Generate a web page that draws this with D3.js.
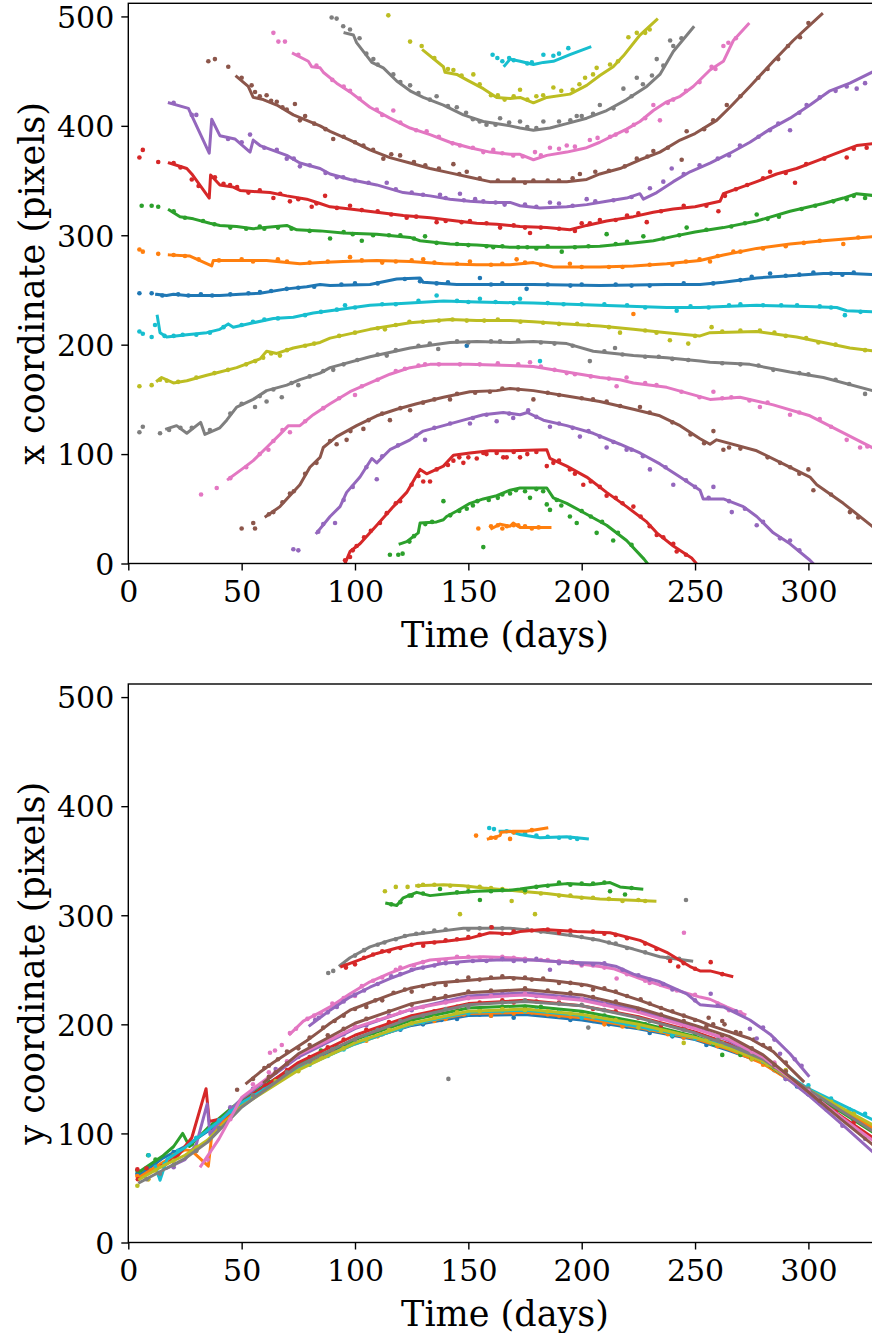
<!DOCTYPE html>
<html><head><meta charset="utf-8">
<script src="https://cdn.jsdelivr.net/npm/d3@7/dist/d3.min.js"></script>
<style>body{margin:0;background:#fff}svg{display:block}</style>
</head><body>
<svg id="chart" width="872" height="1333"></svg>
<script>
// ---------- tick labels / axis labels ----------
const xTicks = [0, 50, 100, 150, 200, 250, 300];
const yTicks = [0, 100, 200, 300, 400, 500];
const xLabel = "Time (days)";
const yLabelTop = "x coordinate (pixels)";
const yLabelBottom = "y coordinate (pixels)";
const palette = ["#1f77b4","#ff7f0e","#2ca02c","#d62728","#9467bd","#8c564b","#e377c2","#7f7f7f","#bcbd22","#17becf"];

// ---------- TOP PANEL: x coordinate vs time ([day, value]) ----------
const tCyanALine = [[166,455],[168.4,461],[172.8,459],[178.7,456],[183.1,458],[187.5,459],[194.8,465],[203.6,472]];
const tCyanADots = [[160.7,465],[162.8,462],[183.1,465],[187.5,464],[194.1,471],[170,460],[176,457],[165,459],[168,462],[178,458],[190,466]];
const tOliveALine = [[130.1,469],[139,454],[139.7,449],[144.9,447],[149.3,442],[156.6,434],[162.5,426],[168.4,425],[172.8,426],[178.7,421],[184.6,426],[194.8,429],[202.2,437],[208,446],[213.9,454],[218.4,464],[225.7,483],[233.1,497]];
const tOliveADots = [[114.7,501],[124.3,477],[129.4,473],[143.4,451],[152.2,447],[172.8,433],[187.5,435],[201.5,444],[206.6,453],[212.5,456],[220.6,481],[224.3,485],[160,428],[166,424],[180,427],[196,433],[135,462],[141,452],[147,446],[155,438],[163,428],[170,427],[176,424],[183,428],[191,432],[199,438],[205,447],[216,459],[228,485],[230,488]];
const tGrayALine = [[95.6,485],[99.3,483],[100.7,476],[107.4,458],[112.5,453],[118.4,441],[124.3,432],[130.1,426],[139,419],[147.8,410],[156.6,404],[168.4,400],[172.8,398],[178.7,396],[186,398],[193.4,402],[202.2,407],[211,414],[219.8,424],[228.7,436],[234.5,447],[240.4,468],[249.2,490]];
const tGrayADots = [[89.7,499],[91.9,498],[94.8,491],[97.8,488],[108.1,461],[116.9,447],[124.3,437],[136,427],[144.9,417],[164,407],[172.8,404],[183.1,404],[197.8,409],[208,419],[218.4,434],[224.3,444],[233.1,461],[239,478],[240.4,473],[152,406],[158,401],[102,480],[105,466],[110,456],[120,440],[128,430],[133,424],[141,418],[149,412],[155,404],[162,401],[168,403],[176,399],[180,398],[190,404],[195,405],[200,409],[205,411],[214,416],[222,427],[227,438],[231,446],[236,455],[244,480]];
const tPinkALine = [[72.8,466],[79.4,459],[80.9,454],[84.6,453],[86,449],[91.9,439],[97.8,431],[106.6,417],[115.4,407],[124.3,398],[133.1,392],[141.9,385],[150.7,380],[159.5,376],[168.4,374],[172.8,374],[178.7,369],[184.6,373],[193.4,376],[202.2,380],[208,385],[213.9,391],[219.8,397],[225.7,404],[231.6,414],[237.5,422],[243.4,427],[249.2,436],[256.6,451],[262.5,459],[266.9,478],[273.5,493]];
const tPinkADots = [[64,485],[66.2,477],[69.1,477],[97.8,432],[109.6,415],[116.9,414],[131.6,395],[146.3,382],[156.6,376],[169.8,373],[179.4,376],[186,380],[193.4,382],[203.6,387],[212.5,390],[219.8,395],[231.6,419],[234.5,405],[240.4,424],[257.3,454],[262.5,473],[264.7,476],[75,465],[83,455],[90,442],[95,436],[102,425],[112,410],[120,403],[127,396],[137,390],[143,384],[152,380],[161,378],[165,375],[174,372],[182,373],[190,379],[197,381],[207,389],[215,392],[223,401],[228,407],[238,421],[246,432],[252,440],[259,452],[268,480]];
const tBrownALine = [[47.8,445],[52.9,436],[55.1,426],[59.5,424],[65.5,419],[72.8,410],[78.7,405],[84.6,400],[89,395],[97.8,387],[106.6,378],[115.4,371],[124.3,366],[133.1,361],[141.9,357],[150.7,353],[159.5,349],[168.4,349],[181.6,349],[193.4,349],[202.2,351],[208,356],[216.9,361],[225.7,369],[234.5,376],[243.4,387],[250,393],[259.5,405],[265.4,417],[274.2,436],[284.5,459],[293.3,478],[305.9,502]];
const tBrownADots = [[35.3,459],[38.2,461],[44.1,454],[54.4,437],[55.9,431],[61,428],[65.5,422],[69.9,415],[73.5,420],[75.7,405],[90.4,388],[103.7,382],[112.5,370],[119.9,373],[143.4,365],[149.3,358],[178.7,350],[199.2,356],[224.3,370],[231.6,377],[244.1,369],[246.3,395],[264,419],[277.9,444],[286.7,461],[296.3,481],[50,444],[58,427],[63,423],[68,417],[78,409],[82,402],[87,397],[95,390],[100,385],[108,378],[116,374],[126,367],[131,364],[137,361],[146,356],[155,352],[163,350],[170,351],[175,348],[185,350],[190,350],[196,352],[206,358],[212,359],[219,363],[229,372],[238,380],[254,397],[258,405],[270,427],[282,452],[291,473],[300,494]];
const tPurpleALine = [[18.1,421],[26.5,416],[35.7,375],[36.8,406],[40.4,391],[47,388],[53.7,376],[55.1,387],[58.1,382],[69.9,373],[75.7,366],[84.6,361],[89,356],[97.8,351],[109.6,346],[121.3,339],[133.1,336],[141.9,333],[150.7,331],[159.5,330],[168.4,330],[172.8,327],[181.6,325],[193.4,326],[202.2,328],[211,331],[219.8,334],[225.7,338],[227.2,333],[233.1,339],[240.4,349],[247.8,358],[256.6,366],[265.4,375],[274.2,385],[283.1,397],[291.9,407],[300.7,419],[309.5,432],[318.3,439],[330,451]];
const tPurpleADots = [[28,410],[53.7,392],[65.5,378],[69.9,370],[75.7,363],[94.8,353],[114,348],[137.5,337],[146.3,338],[156.6,331],[186,330],[202.2,333],[230.1,343],[236,349],[239.7,361],[269.8,382],[286.7,402],[291.9,396],[299.2,419],[316.9,436],[321.3,434],[325,439],[20,421],[30,410],[44,388],[50,385],[60,380],[73,370],[80,364],[87,357],[92,353],[100,350],[106,348],[118,342],[125,339],[130,337],[140,334],[148,332],[153,333],[162,330],[166,328],[175,328],[180,326],[190,329],[196,327],[206,331],[214,332],[222,335],[245,356],[252,364],[260,370],[265,373],[278,390],[283,396],[296,412],[305,426],[312,432]];
const tRedALine = [[18.1,366],[25.8,361],[28,356],[35.7,334],[36.3,355],[40.4,346],[46.3,344],[49.3,341],[55.1,340],[62.5,339],[69.9,336],[78.7,333],[84.6,329],[89,326],[97.8,324],[109.6,321],[121.3,318],[133.1,316],[144.9,313],[153.7,311],[162.5,310],[168.4,309],[172.8,308],[184.6,307],[194.8,305],[202.2,309],[211,313],[222.8,317],[231.6,321],[240.4,324],[250,326],[261,331],[262.5,338],[277.2,349],[286,356],[294.8,361],[303.7,368],[312.5,375],[321.3,382],[330,384]];
const tRedADots = [[4.9,371],[6.4,378],[13.2,367],[28,351],[38.2,353],[44.9,346],[64,334],[71.3,331],[80.9,326],[86.8,336],[97.8,327],[122.8,316],[136,312],[150.7,313],[164,307],[177.2,302],[200,311],[203.6,311],[225,320],[228.7,312],[260.3,322],[263.2,336],[283.1,358],[294.1,348],[316.9,371],[325.7,380],[20,366],[23,362],[31,345],[42,347],[48,344],[53,339],[58,341],[67,338],[75,333],[83,329],[92,325],[103,323],[110,322],[116,319],[127,317],[140,313],[147,312],[158,311],[170,309],[175,307],[182,307],[190,306],[197,304],[208,314],[215,314],[220,318],[235,322],[245,327],[255,327],[268,342],[273,346],[280,352],[290,357],[299,365],[307,370],[320,379]];
const tGreenALine = [[18.1,323],[22.8,317],[28.7,315],[36,311],[40.4,309],[47.8,308],[55.1,306],[69.9,309],[74.3,305],[84.6,304],[94.8,302],[109.6,301],[124.3,298],[128.7,295],[141.9,292],[153.7,291],[168.4,289],[193.4,289],[208,290],[222.8,293],[231.6,295],[240.4,299],[250,303],[262.5,307],[277.2,313],[291.9,322],[306.6,329],[315.4,334],[321.3,338],[330,336]];
const tGreenADots = [[5.9,327],[10.3,327],[13.2,326],[89,297],[103,295],[130.9,299],[161,289],[191.2,285],[211,301],[227.2,299],[246.3,307],[277.2,319],[316.9,333],[325,334],[60,306],[120,300],[180,288],[20,322],[25,316],[33,313],[38,310],[45,307],[52,306],[58,308],[66,307],[72,306],[80,304],[95,303],[99,301],[108,300],[115,300],[126,297],[136,293],[145,292],[150,291],[158,290],[165,290],[172,289],[176,289],[185,290],[197,289],[203,290],[215,292],[220,294],[236,297],[243,300],[255,305],[266,308],[272,311],[282,315],[287,317],[297,324],[303,327],[311,331],[320,336]];
const tOrangeALine = [[18.1,282],[27.2,281],[36.8,272],[37.5,277],[46.3,277],[61,277],[75.7,274],[84.6,275],[94.8,276],[109.6,277],[124.3,276],[139,274],[153.7,273],[168.4,273],[178.7,275],[187.5,271],[208,271],[222.8,272],[237.5,274],[252.2,277],[262.5,282],[277.2,288],[291.9,292],[306.6,295],[330,299]];
const tOrangeADots = [[4.9,287],[6.4,285],[13.2,283],[97.8,280],[130.1,278],[150.7,276],[171.3,278],[194.8,274],[222.8,228],[256.6,276],[266.9,285],[315.4,292],[50,278],[112,275],[240,273],[290,290],[20,282],[25,281],[31,278],[40,277],[55,276],[66,278],[70,276],[80,275],[88,276],[103,277],[118,276],[125,277],[135,275],[145,274],[160,273],[165,274],[175,275],[182,273],[200,271],[212,271],[218,271],[230,273],[246,276],[252,278],[260,281],[270,285],[280,288],[298,293],[305,295],[322,298]];
const tBlueLine = [[12.5,246],[16.9,245],[19.9,246],[25.8,245],[40.4,245],[49.3,246],[58.1,247],[69.9,251],[78.7,253],[84.6,255],[89,254],[106.6,255],[118.4,260],[128.7,261],[130.1,257],[144.9,255],[168.4,255],[178.7,255],[208,254],[237.5,255],[252.2,255],[262.5,257],[277.2,261],[291.9,263],[306.6,265],[318.3,265],[330,264]];
const tBlueDots = [[4.9,247],[10.3,247],[26.5,245],[58.1,248],[69.9,251],[128.7,258],[155.1,261],[175.7,251],[283.1,265],[302.2,266],[149.3,199],[100,256],[200,255],[230,254],[320,266],[15,245],[22,246],[32,246],[37,245],[45,246],[53,247],[63,249],[75,252],[82,253],[94,255],[110,256],[122,260],[136,256],[141,257],[160,255],[165,256],[185,255],[195,254],[215,255],[222,254],[245,256],[258,256],[270,259],[275,262],[290,263],[296,264],[310,265],[315,264]];
const tCyanBLine = [[12.8,226],[14,211],[16.9,207],[25.8,209],[34.6,211],[40.4,214],[44.1,219],[46.3,216],[55.1,220],[64,224],[72.8,225],[81.6,229],[89,231],[106.6,236],[124.3,238],[139,240],[153.7,239],[178.7,238],[208,236],[237.5,234],[252.2,234],[262.5,235],[277.2,236],[299.2,235],[312.5,234],[316.9,231],[330,230]];
const tCyanBDots = [[4.9,212],[6.4,210],[10.3,207],[11.8,218],[95.6,236],[136,245],[155.1,242],[172.8,242],[241.9,231],[316.1,227],[181.6,185],[30,209],[60,223],[200,237],[270,237],[295,236],[16,208],[20,208],[24,209],[36,211],[42,216],[50,218],[55,221],[66,224],[78,227],[85,230],[92,232],[100,234],[112,237],[118,237],[128,240],[145,240],[150,239],[162,239],[170,238],[185,238],[192,237],[210,237],[220,236],[228,234],[248,235],[256,234],[265,236],[280,236],[288,236],[305,235],[310,234],[323,230]];
const tOliveBLine = [[12.8,167],[14.7,170],[19.9,165],[25.8,167],[34.6,172],[40.4,175],[47.8,179],[58.1,187],[61,194],[65.5,192],[72.8,197],[84.6,202],[89,206],[106.6,214],[124.3,220],[141.9,223],[153.7,222],[168.4,222],[178.7,221],[193.4,219],[208,217],[222.8,214],[237.5,211],[252.2,208],[256.6,211],[277.2,212],[294.8,207],[306.6,202],[318.3,197],[330,194]];
const tOliveBDots = [[4.9,162],[10.3,163],[59.5,188],[66.9,190],[113.2,214],[149.3,222],[216.9,211],[238.9,204],[247,201],[257.3,216],[278.6,213],[304.4,202],[130,221],[190,219],[14,168],[17,167],[22,166],[30,170],[38,174],[44,177],[52,182],[56,185],[63,192],[70,195],[78,199],[82,201],[93,208],[100,211],[110,215],[118,218],[124,221],[137,222],[143,223],[157,222],[163,223],[173,221],[183,220],[198,219],[203,218],[212,216],[228,213],[233,211],[250,208],[262,212],[270,213],[285,211],[290,208],[299,206],[312,200],[325,195]];
const tGrayBLine = [[16.9,123],[21.3,126],[25.8,119],[31.9,129],[33.8,118],[40.4,124],[43.4,131],[47.8,143],[55.1,150],[61,158],[69.9,163],[75.7,168],[84.6,174],[89,179],[106.6,189],[124.3,197],[141.9,202],[153.7,203],[168.4,202],[178.7,203],[193.4,201],[205.1,194],[222.8,190],[237.5,188],[252.2,185],[256.6,184],[274.2,182],[291.9,175],[306.6,170],[330,157]];
const tGrayBDots = [[4.9,120],[6.4,125],[14,119],[55.9,143],[61,148],[67.7,152],[75,163],[90.4,177],[114,190],[136.7,196],[203.6,185],[214.7,197],[284.5,177],[325,155],[160,203],[240,187],[18,122],[23,124],[28,124],[36,122],[45,137],[50,146],[58,153],[64,159],[72,165],[80,171],[86,176],[95,182],[101,186],[110,191],[118,195],[128,199],[133,201],[145,203],[150,202],[164,203],[172,204],[182,202],[188,201],[196,199],[210,194],[218,191],[228,189],[234,189],[247,186],[262,183],[270,182],[278,181],[296,174],[300,173],[312,168],[318,164]];
const tPinkBLine = [[44.1,77],[50,86],[55.1,94],[61,106],[66.9,118],[70.6,126],[75.7,126],[81.6,136],[84.6,140],[89,146],[97.8,157],[106.6,165],[115.4,173],[124.3,179],[133.1,182],[150,182],[168.4,181],[178.7,180],[193.4,175],[208,170],[216.9,168],[222.8,165],[237.5,161],[247.8,155],[256.6,150],[269.8,152],[284.5,145],[300.7,135],[313.9,121],[330,104]];
const tPinkBDots = [[32.1,63],[39,69],[61.8,104],[71.3,120],[100,154],[130.9,182],[146.3,182],[177.2,184],[193.4,174],[215.4,162],[219.8,170],[258.1,157],[278.6,143],[291.9,136],[316.9,113],[322.8,106],[45,78],[52,88],[58,100],[64,112],[68,122],[78,130],[86,142],[93,151],[103,162],[110,168],[118,176],[122,178],[128,181],[137,182],[155,182],[163,183],[172,182],[182,180],[188,177],[197,173],[204,171],[212,169],[228,165],[233,163],[244,157],[252,152],[262,151],[266,152],[274,149],[282,147],[296,138],[305,132],[310,125],[326,107]];
const tBrownBLine = [[60.7,43],[66.9,52],[69.9,59],[75.7,72],[80.1,88],[84.6,97],[86,106],[91.9,116],[100.7,126],[109.6,135],[118.4,141],[127.2,146],[139,152],[150.7,157],[162.5,158],[168.4,160],[178.7,158],[193.4,153],[208,148],[222.8,141],[234.5,135],[243.4,126],[252.2,114],[256.6,109],[259.5,113],[277.2,103],[288.9,91],[300.7,79],[303.7,72],[315.4,55],[330,31]];
const tBrownBDots = [[50,32],[55.1,37],[55.9,32],[71.3,64],[91.9,109],[96.3,113],[103.7,123],[115.4,131],[124.3,140],[141.9,150],[159.5,157],[178.7,150],[211,148],[225.7,143],[258.1,121],[262.5,104],[287.5,92],[300,86],[302.2,67],[318.3,47],[62,45],[64,47],[68,56],[73,66],[78,82],[83,92],[89,112],[98,121],[106,131],[112,137],[120,142],[130,147],[135,150],[145,155],[153,156],[165,160],[172,159],[185,156],[190,154],[200,151],[205,150],[217,144],[230,138],[240,129],[248,118],[254,110],[265,106],[270,105],[282,97],[292,88],[296,82],[310,63],[322,42]];
const tPurpleBLine = [[83.1,28],[89,43],[93.4,52],[96.3,65],[102.2,79],[107.4,96],[109.6,92],[115.4,104],[124.3,113],[130.1,121],[139,126],[147.8,131],[156.6,136],[165.4,138],[172.8,136],[176,138],[183.1,131],[193.4,126],[205.1,119],[216.9,109],[225.7,101],[234.5,91],[243.4,79],[252.2,67],[253.6,59],[262.5,59],[271.3,52],[277.2,43],[284.5,28],[291.9,18],[300.7,3],[303,-2]];
const tPurpleBDots = [[72.8,13],[75,12],[83.8,29],[91.2,37],[109.6,77],[130.9,113],[150.7,128],[162.5,130],[169.8,133],[176.4,140],[186,125],[199.2,116],[211,106],[219.8,104],[230.1,86],[240.4,72],[258.1,70],[266.2,47],[277.2,35],[287.5,23],[291.9,21],[86,36],[95,58],[99,70],[105,88],[112,98],[119,108],[127,117],[135,124],[142,128],[152,133],[158,136],[168,137],[180,134],[190,128],[196,124],[203,121],[208,116],[214,111],[222,104],[227,98],[237,88],[246,76],[250,70],[256,60],[265,57],[272,50],[280,38],[296,12]];
const tRedBLine = [[95,-3],[97.8,11],[102.2,18],[109.6,35],[116.9,52],[122.8,65],[128.7,86],[131.6,82],[139,89],[143.4,99],[150.7,101],[159.5,103],[168.4,103],[184.6,104],[186,96],[193.4,89],[202.2,79],[211,65],[219.8,52],[228.7,38],[233.1,28],[240.4,16],[248.5,5],[252.2,-4]];
const tRedBDots = [[95.6,3],[97.8,6],[100.7,16],[111,37],[119.9,57],[130.1,75],[133.1,75],[143.4,94],[147.8,92],[153.7,96],[156.6,101],[162.5,101],[165.4,97],[166.9,97],[172.8,97],[184.6,89],[187.5,92],[194.8,86],[200.7,72],[211,62],[222.8,52],[233.1,26],[240.4,18],[241.9,11],[99,12],[104,24],[107,30],[114,46],[118,55],[125,72],[128,80],[136,86],[141,90],[146,97],[150,97],[158,100],[170,102],[176,100],[180,102],[190,94],[197,82],[204,75],[208,70],[215,60],[218,55],[226,43],[230,34],[236,24],[246,8]];
const tGreenBLine = [[119.9,18],[122.8,20],[127.9,28],[128.7,37],[136,38],[139,40],[140.4,43],[144.9,48],[150.7,55],[156.6,59],[162.5,62],[168.4,67],[172.8,69],[184.6,69],[187.5,60],[193.4,55],[202.2,45],[211,35],[219.8,21],[227.5,4],[229,0]];
const tGreenBDots = [[115.4,8],[119.1,8],[121,9],[139,57],[149.3,50],[156.6,15],[168.4,64],[177.2,60],[184.6,54],[186,49],[194.8,43],[197.8,37],[206.6,28],[213.9,21],[124,20],[126,25],[131,36],[134,38],[142,44],[146,48],[152,53],[154,57],[159,58],[163,60],[165,63],[171,67],[175,66],[180,68],[183,66],[189,58],[191,53],[200,48],[204,43],[209,38],[216,28],[222,17]];
const tOrangeBLine = [[160.3,32],[164,36],[168.4,34],[169.8,37],[172.8,33],[186,33]];
const tOrangeBDots = [[154.4,32],[167,34],[178,32],[172,35],[160,34],[163,35],[165,32],[170,35],[175,34],[181,33]];

// ---------- BOTTOM PANEL: y coordinate vs time ([day, value]) ----------
const bCyanALine = [[164,377],[168.4,377],[172.8,374],[181.6,371],[193.4,372],[202.5,370]];
const bCyanADots = [[159.2,380],[161.3,379],[166.9,377],[175,375],[185,372],[195,371],[170,376],[180,373],[190,371],[198,370]];
const bOrangeBLine = [[158.8,370],[164,373],[164.5,376],[169.8,377],[175.7,377],[184.6,380]];
const bOrangeBDots = [[153.4,373],[168.4,370],[162,371],[160,371],[170,376],[178,378]];
const bOliveALine = [[127.2,327],[139,328],[147.8,327],[156.6,325],[168.4,323],[172.8,322],[184.6,320],[196.3,317],[208,315],[219.8,314],[232.3,313]];
const bOliveADots = [[113.2,322],[123.2,326],[146.3,301],[169.1,313],[179.4,301],[130,328],[155,326],[190,318],[205,316],[225,314],[118,326],[128,327],[135,328],[142,327],[150,326],[160,325],[165,324],[175,321],[182,320],[195,318],[200,316],[212,315],[218,313],[228,313]];
const bGreenBLine = [[114,311],[118.4,309],[121.3,316],[127.2,321],[133.1,318],[141.9,320],[153.7,322],[168.4,323],[172.8,324],[183.1,327],[193.4,329],[203.6,328],[212.5,330],[216.9,326],[226.5,324]];
const bGreenBDots = [[155.1,314],[137.5,324],[212.5,322],[219.1,319],[125,318],[190,330],[200,329],[175,323],[116,310],[120,312],[124,318],[130,320],[145,321],[150,322],[160,322],[165,323],[180,326],[185,327],[195,328],[205,329],[210,330],[222,325]];
const bGrayALine = [[93.4,254],[97.8,261],[106.6,271],[115.4,277],[124.3,282],[136,285],[147.8,288],[156.6,288],[168.4,288],[178.7,286],[193.4,282],[208,277],[222.8,269],[234.5,262],[248.5,258]];
const bGrayADots = [[88.2,247],[90.4,249],[246,314],[141.2,150],[202.9,197],[110,273],[130,284],[160,289],[185,285],[215,274],[95,255],[100,263],[104,268],[113,275],[118,278],[122,281],[127,283],[135,286],[140,287],[150,287],[155,288],[165,288],[170,287],[176,287],[182,285],[195,282],[200,280],[205,278],[212,275],[220,270],[228,266],[238,261],[243,260]];
const bRedBLine = [[94.1,253],[99.3,257],[109.6,265],[118.4,270],[127.2,274],[139,276],[150.7,279],[159.5,284],[168.4,283],[172.8,285],[183.1,287],[197.8,285],[212.5,284],[225.7,277],[237.5,266],[247.8,253],[252.2,249],[256.6,249],[266.2,244]];
const bRedBDots = [[256.9,257],[239,258],[242.6,253],[160.3,289],[130.1,272],[100,255],[115,267],[145,278],[190,284],[220,279],[96,252],[104,261],[108,264],[112,267],[120,270],[125,273],[135,275],[140,277],[150,280],[155,282],[165,283],[170,285],[178,286],[185,287],[195,286],[205,285],[210,283],[215,282],[228,274],[233,269],[245,256],[250,251],[262,246]];
const bPinkALine = [[71.3,191],[77.2,203],[84.6,211],[89,216],[97.8,228],[106.6,239],[115.4,247],[124.3,254],[133.1,259],[144.9,261],[156.6,262],[168.4,261],[178.7,259],[193.4,257],[208,253],[213.9,251],[225.7,242],[237.5,234],[252.2,225],[256.6,223],[263.9,216],[272,209]];
const bPinkADots = [[62.5,174],[64.7,176],[67.7,181],[71.3,192],[245.1,284],[215.4,242],[85,210],[100,226],[120,252],[140,259],[160,260],[185,259],[200,254],[230,238],[260,219],[74,196],[79,205],[82,208],[90,219],[95,224],[103,235],[108,240],[112,243],[118,250],[126,254],[130,257],[137,258],[145,262],[150,262],[155,261],[165,262],[170,261],[175,260],[182,259],[190,258],[195,257],[205,254],[210,252],[220,246],[228,240],[235,236],[242,231],[250,227],[265,213],[270,211]];
const bPurpleBLine = [[80.1,199],[89,213],[97.8,225],[106.6,234],[115.4,242],[127.2,251],[139,256],[150.7,258],[162.5,259],[178.7,259],[193.4,257],[208,256],[215.4,253],[222.8,246],[234.5,239],[246.3,228],[252.2,218],[262.5,216],[274.2,204],[283.1,191],[291.9,173],[300,153]];
const bPurpleBDots = [[82.4,204],[186,250],[256.9,228],[274.2,196],[277.2,187],[287.5,173],[95,221],[120,246],[145,256],[170,258],[200,255],[240,232],[294,168],[84,206],[88,211],[92,216],[100,227],[104,231],[110,237],[116,244],[125,250],[130,252],[135,254],[140,256],[152,258],[158,258],[165,260],[175,258],[180,260],[190,256],[196,257],[205,255],[210,256],[218,250],[225,245],[230,241],[236,237],[250,222],[260,217],[268,212],[280,197],[285,186],[297,162]];
const bBrownALine = [[52.2,146],[58,156],[64,165],[69.9,173],[78.7,185],[84.6,194],[89,201],[97.8,213],[106.6,220],[115.4,227],[124.3,233],[136,238],[147.8,240],[159.5,242],[168.4,243],[187.5,240],[202.2,236],[213.9,230],[225.7,222],[237.5,213],[252.2,203],[256.6,199],[274.2,187],[284.5,175],[297.7,148]];
const bBrownADots = [[48,140],[60,160],[75,178],[95,208],[105,216],[112,222],[125,230],[140,236],[150,243],[165,244],[178,241],[190,238],[205,232],[220,226],[235,215],[250,204],[256,206],[262,203],[268,193],[283,178],[55,150],[62,162],[66,168],[70,175],[80,188],[86,197],[91,203],[100,214],[109,222],[117,229],[122,232],[130,235],[135,237],[145,240],[155,241],[160,243],[170,242],[175,243],[183,242],[195,238],[200,236],[210,233],[215,230],[226,223],[230,219],[240,212],[245,208],[258,200],[263,200],[270,192],[276,186],[280,181],[290,165]];
const bBlueLine = [[5,62],[15,77],[25,88],[35,102],[50,127],[62,145],[75,160],[87,172],[100,183],[125,199],[150,208],[175,209],[200,204],[225,196],[250,186],[265,176],[280,165],[300,139],[315,122],[330,104]];
const bBlueDots = [[4,63],[8.8,67],[60,141],[90,174],[120,195],[145,205],[170,206],[195,204],[230,192],[255,181],[262,180],[295,143],[320,112],[308,131],[12,72],[20,83],[30,95],[40,110],[45,118],[55,134],[68,152],[80,166],[95,180],[105,186],[112,191],[130,200],[138,204],[155,209],[160,208],[180,210],[185,208],[205,203],[212,200],[220,198],[240,189],[245,188],[270,174],[275,170],[285,158],[290,150],[300,136],[312,125],[325,108]];
const bOrangeALine = [[5,60],[15,73],[25,85],[28,84],[35.3,70],[36.8,98],[50,130],[62,146],[75,160],[100,182],[125,200],[150,210],[175,211],[200,206],[225,197],[250,187],[265,177],[280,164],[300,138],[315,121],[330,103]];
const bOrangeADots = [[4,61],[8.8,58],[45,122],[70,154],[110,189],[140,205],[160,208],[185,209],[210,200],[245,188],[270,176],[298,140],[10,66],[20,80],[30,84],[40,112],[55,137],[60,143],[80,165],[90,176],[95,178],[105,185],[120,197],[130,202],[135,203],[148,209],[155,211],[170,210],[178,211],[190,208],[195,207],[205,205],[218,198],[230,195],[238,191],[255,185],[260,180],[280,163],[288,155],[305,132],[312,126],[322,113]];
const bGreenALine = [[5,65],[15,79],[20,88],[24,100],[27,88],[35,105],[50,131],[75,163],[100,186],[125,204],[150,215],[175,217],[200,212],[225,202],[250,189],[265,179],[280,166],[300,138],[315,119],[330,99]];
const bGreenADots = [[4,66],[8.8,80],[55,135],[85,176],[115,196],[155,213],[190,212],[220,203],[240,190],[262,172],[285,163],[12,76],[28,90],[38,108],[45,122],[62,147],[70,157],[78,166],[92,180],[98,184],[108,192],[125,203],[135,208],[145,211],[165,216],[175,216],[182,216],[200,211],[210,208],[228,200],[235,196],[250,190],[258,182],[270,172],[275,169],[290,152],[300,139],[310,127]];
const bRedALine = [[17,72],[22,80],[28,96],[34.3,141],[35.7,111],[42,114],[50,128],[75,165],[100,190],[125,208],[150,219],[175,222],[200,217],[225,207],[250,193],[265,182],[280,168],[300,137],[315,115],[330,94]];
const bRedADots = [[4,67],[4.2,58],[60,145],[95,186],[135,212],[170,220],[205,214],[235,199],[275,168],[305,128],[320,110],[8,68],[15,70],[45,120],[55,137],[70,158],[80,170],[88,179],[105,195],[115,202],[125,207],[145,216],[155,220],[165,222],[180,221],[190,220],[215,212],[225,206],[245,197],[258,186],[265,181],[290,152],[298,140],[312,120]];
const bPurpleALine = [[17,68],[25,76],[30,90],[34.8,127],[36,99],[40,110],[50,132],[75,170],[100,196],[125,214],[150,226],[175,229],[200,224],[225,213],[250,197],[265,185],[280,168],[300,135],[315,108],[330,80]];
const bPurpleADots = [[20,69],[65,159],[105,199],[140,222],[180,226],[215,216],[245,201],[290,150],[315,107],[325,95],[28,84],[45,124],[55,141],[75,170],[85,181],[95,191],[115,208],[125,213],[155,226],[165,228],[195,225],[205,222],[225,214],[235,208],[255,194],[270,181],[280,169],[300,136],[308,122]];
const bCyanBLine = [[12,70],[14,57],[17,76],[25,87],[35,103],[50,128],[75,159],[100,182],[125,200],[150,211],[175,213],[200,208],[225,198],[250,188],[265,179],[280,168],[300,141],[315,126],[330,111]];
const bCyanBDots = [[9,80],[13.5,62],[60,140],[95,177],[130,202],[165,212],[200,206],[240,190],[290,155],[318,122],[325,118],[16,72],[22,84],[30,96],[40,112],[45,120],[55,135],[70,153],[80,163],[88,171],[105,187],[115,194],[120,196],[140,207],[150,210],[155,212],[175,212],[180,213],[190,211],[210,205],[220,200],[230,196],[250,187],[258,183],[270,176],[280,166],[300,144],[310,132],[320,120],[330,112]];
const bOliveBLine = [[5,58],[15,70],[25,80],[35,94],[50,125],[75,158],[100,183],[125,201],[150,212],[175,214],[200,209],[225,200],[250,188],[265,178],[280,166],[300,140],[315,123],[330,106]];
const bOliveBDots = [[4,52],[8.8,58],[65,148],[105,186],[145,211],[185,212],[225,197],[245,183],[275,168],[290,158],[12,66],[20,75],[30,87],[40,105],[55,133],[75,157],[85,170],[95,178],[115,195],[125,201],[135,206],[155,212],[165,214],[175,213],[195,210],[205,207],[215,204],[235,194],[255,186],[262,183],[282,163],[300,141],[310,129],[320,118]];
const bGrayBLine = [[5,55],[15,66],[25,77],[35,92],[50,124],[75,162],[100,187],[125,206],[150,218],[175,221],[200,217],[225,206],[250,192],[265,181],[280,168],[300,140],[315,120],[330,100]];
const bGrayBDots = [[14,63],[40,105],[80,166],[110,195],[150,216],[190,219],[230,203],[260,186],[8,58],[20,71],[30,84],[55,135],[70,156],[90,177],[100,186],[120,203],[130,208],[140,214],[165,220],[175,222],[200,218],[210,213],[245,195],[270,178],[285,161],[300,141]];
const bPinkBLine = [[32,70],[40,95],[50,133],[75,172],[100,197],[125,214],[150,224],[175,227],[200,222],[225,211],[250,196],[265,186],[280,170],[300,138],[315,114],[330,91]];
const bPinkBDots = [[45,113],[70,166],[110,204],[160,226],[210,218],[250,197],[300,139],[35,76],[55,145],[62,156],[80,178],[90,188],[100,198],[120,211],[130,216],[140,220],[150,224],[175,228],[190,224],[200,223],[225,212],[235,205],[260,190],[275,175],[285,165]];
const bBrownBLine = [[60,147],[75,173],[100,201],[125,219],[150,229],[175,232],[200,227],[225,215],[250,199],[265,189],[280,172],[300,138],[315,112],[330,87]];
const bBrownBDots = [[65,156],[95,196],[135,224],[175,233],[215,221],[255,198],[285,163],[62,152],[70,164],[80,181],[88,190],[105,205],[115,212],[125,218],[140,226],[150,230],[160,231],[185,231],[195,229],[205,225],[225,214],[235,209],[245,203],[262,190],[275,178],[290,157],[305,130]];

// ---------- track tables (colour index, line, dots) ----------
const topTracks = [
  [0,tBlueLine,tBlueDots],[1,tOrangeALine,tOrangeADots],[2,tGreenALine,tGreenADots],[3,tRedALine,tRedADots],
  [4,tPurpleALine,tPurpleADots],[5,tBrownALine,tBrownADots],[6,tPinkALine,tPinkADots],[7,tGrayALine,tGrayADots],
  [8,tOliveALine,tOliveADots],[9,tCyanALine,tCyanADots],[9,tCyanBLine,tCyanBDots],[8,tOliveBLine,tOliveBDots],
  [7,tGrayBLine,tGrayBDots],[6,tPinkBLine,tPinkBDots],[5,tBrownBLine,tBrownBDots],[4,tPurpleBLine,tPurpleBDots],
  [3,tRedBLine,tRedBDots],[2,tGreenBLine,tGreenBDots],[1,tOrangeBLine,tOrangeBDots]
];
const bottomTracks = [
  [0,bBlueLine,bBlueDots],[1,bOrangeALine,bOrangeADots],[2,bGreenALine,bGreenADots],[3,bRedALine,bRedADots],
  [4,bPurpleALine,bPurpleADots],[5,bBrownALine,bBrownADots],[6,bPinkALine,bPinkADots],[7,bGrayALine,bGrayADots],
  [8,bOliveALine,bOliveADots],[9,bCyanALine,bCyanADots],[9,bCyanBLine,bCyanBDots],[8,bOliveBLine,bOliveBDots],
  [7,bGrayBLine,bGrayBDots],[6,bPinkBLine,bPinkBDots],[5,bBrownBLine,bBrownBDots],[4,bPurpleBLine,bPurpleBDots],
  [3,bRedBLine,bRedBDots],[2,bGreenBLine,bGreenBDots],[1,bOrangeBLine,bOrangeBDots]
];

// ---------- drawing ----------
const svg = d3.select("#chart");
const FONT = "'DejaVu Serif', serif";
const left = 128.3, right = 128.3 + 340 * 2.267;
const x = d3.scaleLinear().domain([0, 340]).range([left, right]);

function panel(tracks, top, bottom, ylab, id) {
  const y = d3.scaleLinear().domain([0, 512]).range([bottom, top]);
  svg.append("clipPath").attr("id", id).append("rect")
    .attr("x", left).attr("y", top).attr("width", right - left).attr("height", bottom - top);
  const g = svg.append("g").attr("clip-path", `url(#${id})`);
  const line = d3.line().x(d => x(d[0])).y(d => y(d[1]));
  tracks.forEach(([c, ln, dots]) => {
    g.append("path").attr("d", line(ln)).attr("fill", "none")
      .attr("stroke", palette[c]).attr("stroke-width", 3).attr("stroke-linejoin", "round").attr("stroke-linecap", "square");
    g.selectAll(null).data(dots).enter().append("circle")
      .attr("cx", d => x(d[0])).attr("cy", d => y(d[1])).attr("r", 2.3).attr("fill", palette[c]);
  });
  svg.append("rect").attr("x", left).attr("y", top).attr("width", right - left).attr("height", bottom - top)
    .attr("fill", "none").attr("stroke", "#000").attr("stroke-width", 1.4);
  const xa = svg.append("g").attr("transform", `translate(0,${bottom})`)
    .call(d3.axisBottom(x).tickValues(xTicks).tickSize(7).tickPadding(10).tickSizeOuter(0));
  xa.select(".domain").remove();
  const ya = svg.append("g").attr("transform", `translate(${left},0)`)
    .call(d3.axisLeft(y).tickValues(yTicks).tickSize(7).tickPadding(7).tickSizeOuter(0));
  ya.select(".domain").remove();
  [xa, ya].forEach(a => {
    a.selectAll("line").attr("stroke", "#000").attr("stroke-width", 1.4);
    a.selectAll("text").attr("font-family", FONT).attr("font-size", 30).attr("fill", "#000");
  });
  ya.selectAll("text").attr("dy", "0.36em");
  svg.append("text").attr("x", 505).attr("y", bottom + 83)
    .attr("text-anchor", "middle").attr("font-family", FONT).attr("font-size", 35).text(xLabel);
  svg.append("text").attr("transform", `translate(44,${(top + bottom) / 2}) rotate(-90)`)
    .attr("text-anchor", "middle").attr("font-family", FONT).attr("font-size", 35).text(ylab);
}
panel(topTracks, 3.3, 563.5, yLabelTop, "clipTop");
panel(bottomTracks, 684, 1242.5, yLabelBottom, "clipBottom");
</script>
</body></html>
